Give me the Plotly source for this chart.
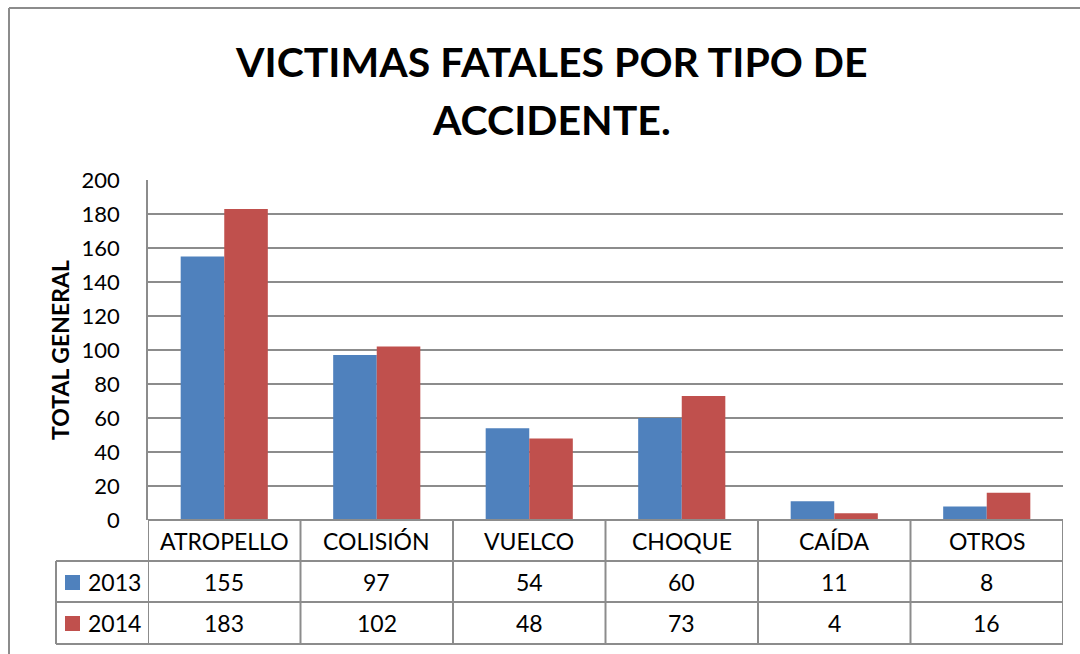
import plotly.graph_objects as go

categories = ["ATROPELLO", "COLISIÓN", "VUELCO", "CHOQUE", "CAÍDA", "OTROS"]
series_names = ["2013", "2014"]
values_2013 = [155, 97, 54, 60, 11, 8]
values_2014 = [183, 102, 48, 73, 4, 16]
y_ticks = [0, 20, 40, 60, 80, 100, 120, 140, 160, 180, 200]
title_lines = ["VICTIMAS FATALES POR TIPO DE", "ACCIDENTE."]
y_title = "TOTAL GENERAL"
colors = ["#4F81BD", "#C0504D"]

W, H = 1080, 654
L, R, T, B = 148, 1063, 180, 520  # plot area in pixels
FONT = "Lato"
GRID = "#8C8C8C"


def px(xp):
    return (xp - L) / (R - L)


def py(yp):
    return (B - yp) / (B - T)


fig = go.Figure()
for name, vals, col in zip(series_names, [values_2013, values_2014], colors):
    fig.add_trace(go.Bar(x=list(range(len(categories))), y=vals, name=name,
                         marker=dict(color=col, line=dict(width=0))))

shapes = []
annotations = []

# outer chart border (left and top)
shapes.append(dict(type="line", xref="paper", yref="paper", x0=px(9), x1=px(9),
                   y0=py(8), y1=py(660), line=dict(color="#8C8C8C", width=2)))
shapes.append(dict(type="line", xref="paper", yref="paper", x0=px(9), x1=px(1085),
                   y0=py(8), y1=py(8), line=dict(color="#8C8C8C", width=2)))

# data table grid
table_rows = [B, 561, 602, 644]
for i, yy in enumerate(table_rows):
    x0 = L if i == 0 else 56
    shapes.append(dict(type="line", xref="paper", yref="paper", x0=px(x0), x1=1,
                       y0=py(yy), y1=py(yy), line=dict(color=GRID, width=2)))
shapes.append(dict(type="line", xref="paper", yref="paper", x0=px(56), x1=px(56),
                   y0=py(561), y1=py(644), line=dict(color=GRID, width=2)))
for k in range(len(categories) + 1):
    shapes.append(dict(type="line", xref="x", yref="paper", x0=k - 0.5, x1=k - 0.5,
                       y0=py(B), y1=py(644), line=dict(color=GRID, width=2)))

txt = dict(family=FONT, size=23, color="#000")

# category labels and values
for k, cat in enumerate(categories):
    annotations.append(dict(x=k, y=py(541), xref="x", yref="paper", text=cat,
                            xanchor="center", yanchor="middle", showarrow=False, font=txt))
    for vals, yy in [(values_2013, 582), (values_2014, 623)]:
        annotations.append(dict(x=k, y=py(yy), xref="x", yref="paper", text=str(vals[k]),
                                xanchor="center", yanchor="middle", showarrow=False, font=txt))

# legend keys in table
for name, col, yy in zip(series_names, colors, [582, 623]):
    shapes.append(dict(type="rect", xref="paper", yref="paper", x0=px(65), x1=px(80),
                       y0=py(yy - 7), y1=py(yy + 8), fillcolor=col, line=dict(width=0)))
    annotations.append(dict(x=px(86), y=py(yy), xref="paper", yref="paper", text=name,
                            xanchor="left", yanchor="middle", showarrow=False, font=txt))

# y-axis title
annotations.append(dict(x=px(60), y=0.5, xref="paper", yref="paper", text="<b>%s</b>" % y_title,
                        textangle=-90, xanchor="center", yanchor="middle", showarrow=False,
                        font=dict(family=FONT, size=23, color="#000")))

# chart title (two lines)
for line, yy in zip(title_lines, [62, 120]):
    annotations.append(dict(x=px(551), y=py(yy), xref="paper", yref="paper",
                            text="<b>%s</b>" % line, xanchor="center", yanchor="middle",
                            showarrow=False, font=dict(family=FONT, size=41, color="#000")))

fig.update_layout(
    width=W, height=H,
    margin=dict(l=L, r=W - R, t=T, b=H - B),
    paper_bgcolor="white", plot_bgcolor="white",
    barmode="group", bargap=0.4286, bargroupgap=0,
    showlegend=False,
    xaxis=dict(range=[-0.5, len(categories) - 0.5], showticklabels=False, showgrid=False,
               zeroline=False, showline=False, fixedrange=True),
    yaxis=dict(range=[0, 200], tickvals=y_ticks, showgrid=True, gridcolor=GRID, gridwidth=1.5,
               zeroline=False, showline=True, linecolor=GRID, linewidth=1.5,
               ticklabelstandoff=22,
               tickfont=dict(family=FONT, size=22, color="#000")),
    shapes=shapes, annotations=annotations,
)

fig.write_html("out.html", config={"displayModeBar": False},
               post_script="document.body.style.margin='0';")
